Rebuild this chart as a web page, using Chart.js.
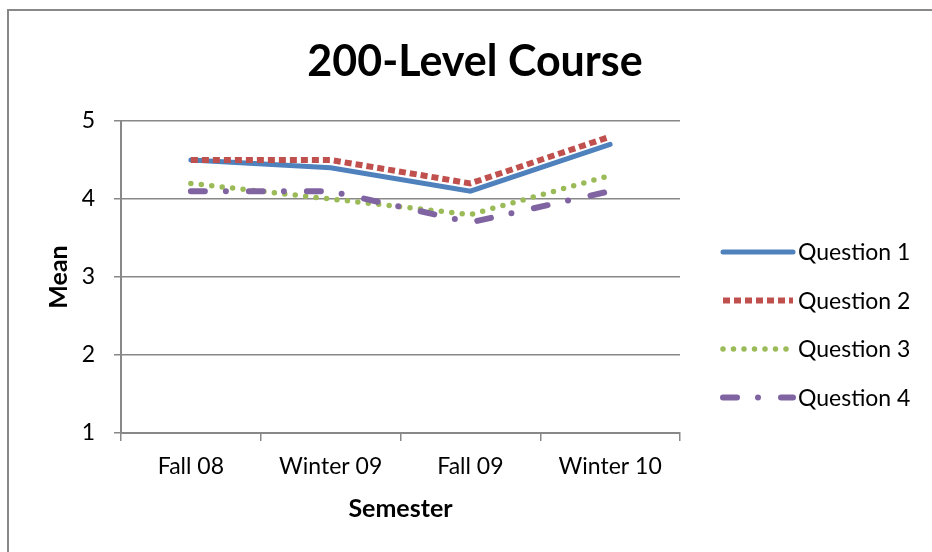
<!DOCTYPE html>
<html>
<head>
<meta charset="utf-8">
<script src="https://cdn.jsdelivr.net/npm/chart.js@4/dist/chart.umd.min.js"></script>
<style>
    html, body { margin: 0; padding: 0; background: #fff; }
    #wrap { width: 932px; height: 552px; }
</style>
</head>
<body>
<div id="wrap"><canvas id="courseChart" width="932" height="552"></canvas></div>
<script>
const chartTitle = "200-Level Course";
const semesters = ["Fall 08", "Winter 09", "Fall 09", "Winter 10"];
const seriesNames = ["Question 1", "Question 2", "Question 3", "Question 4"];
const question1 = [4.5, 4.4, 4.1, 4.7];
const question2 = [4.5, 4.5, 4.2, 4.8];
const question3 = [4.2, 4.0, 3.8, 4.3];
const question4 = [4.1, 4.1, 3.7, 4.1];
const meanTicks = [1, 2, 3, 4, 5];

const FONT = "Lato";
const GRAY = "#888888";

const frameAndTitle = {
    id: "frameAndTitle",
    beforeDraw(chart) {
        const ctx = chart.ctx;
        ctx.save();
        ctx.fillStyle = "white";
        ctx.fillRect(0, 0, chart.width, chart.height);
        ctx.strokeStyle = GRAY;
        ctx.lineWidth = 2;
        ctx.strokeRect(8, 10, chart.width + 10, chart.height + 10);
        ctx.restore();
    },
    afterDraw(chart) {
        const ctx = chart.ctx;
        ctx.save();
        ctx.fillStyle = "black";
        ctx.font = "bold 43px " + FONT;
        ctx.textAlign = "center";
        ctx.textBaseline = "middle";
        ctx.fillText(chartTitle, 475, 62);
        ctx.restore();
    },
};

// legend drawn by hand so the dash patterns show the same as the lines
const lineLegend = {
    id: "lineLegend",
    afterDraw(chart) {
        const ctx = chart.ctx;
        const area = chart.chartArea;
        const x0 = area.right + 43;
        ctx.save();
        chart.data.datasets.forEach(function (ds, i) {
            const y = area.top + 131 + i * 48.5;
            ctx.beginPath();
            ctx.strokeStyle = ds.borderColor;
            ctx.lineWidth = ds.borderWidth;
            ctx.lineCap = ds.borderCapStyle || "butt";
            ctx.setLineDash(ds.borderDash || []);
            ctx.moveTo(x0, y);
            ctx.lineTo(x0 + 70, y);
            ctx.stroke();
            ctx.setLineDash([]);
            ctx.fillStyle = "black";
            ctx.font = "23px " + FONT;
            ctx.textAlign = "left";
            ctx.textBaseline = "middle";
            ctx.fillText(ds.label, x0 + 75, y + 1);
        });
        ctx.restore();
    },
};

const ctx = document.getElementById("courseChart").getContext("2d");

new Chart(ctx, {
    type: "line",
    data: {
        labels: semesters,
        datasets: [
            {
                label: seriesNames[0],
                data: question1,
                borderColor: "#4F81BD",
                borderWidth: 5,
                borderCapStyle: "round",
                order: 4,
            },
            {
                label: seriesNames[1],
                data: question2,
                borderColor: "#C0504D",
                borderWidth: 6,
                borderCapStyle: "butt",
                borderDash: [7, 4],
                order: 3,
            },
            {
                label: seriesNames[2],
                data: question3,
                borderColor: "#9BBB59",
                borderWidth: 5.5,
                borderCapStyle: "round",
                borderDash: [0, 10.5],
                order: 2,
            },
            {
                label: seriesNames[3],
                data: question4,
                borderColor: "#8064A2",
                borderWidth: 6,
                borderCapStyle: "round",
                borderDash: [14, 21, 0, 23],
                order: 1,
            },
        ],
    },
    options: {
        responsive: false,
        animation: false,
        elements: {
            point: { radius: 0 },
            line: { tension: 0, fill: false },
        },
        layout: {
            padding: { left: 5, top: 121, right: 252, bottom: 0 },
        },
        scales: {
            x: {
                offset: true,
                grid: {
                    offset: true,
                    drawOnChartArea: false,
                    color: GRAY,
                    lineWidth: 1.5,
                    tickLength: 8,
                },
                border: { display: true, color: GRAY, width: 2 },
                ticks: {
                    color: "black",
                    padding: 12,
                    font: { family: FONT, size: 23 },
                    maxRotation: 0,
                },
                title: {
                    display: true,
                    text: "Semester",
                    color: "black",
                    font: { family: FONT, size: 25, weight: "bold" },
                    padding: { top: 6, bottom: 28 },
                },
                afterFit(scale) {
                    scale.height = 119;
                },
            },
            y: {
                min: 1,
                max: 5,
                afterBuildTicks(scale) {
                    scale.ticks = meanTicks.map((v) => ({ value: v }));
                },
                grid: {
                    color: GRAY,
                    lineWidth: 1.5,
                    tickLength: 7,
                },
                border: { display: true, color: GRAY, width: 2 },
                ticks: {
                    color: "black",
                    padding: 19,
                    font: { family: FONT, size: 23 },
                },
                title: {
                    display: true,
                    text: "Mean",
                    color: "black",
                    font: { family: FONT, size: 25, weight: "bold" },
                    padding: { top: 39, bottom: 0 },
                },
                afterFit(scale) {
                    scale.width = 116;
                },
            },
        },
        plugins: {
            legend: { display: false },
            tooltip: { enabled: false },
            title: { display: false },
        },
    },
    plugins: [frameAndTitle, lineLegend],
});
</script>
</body>
</html>
